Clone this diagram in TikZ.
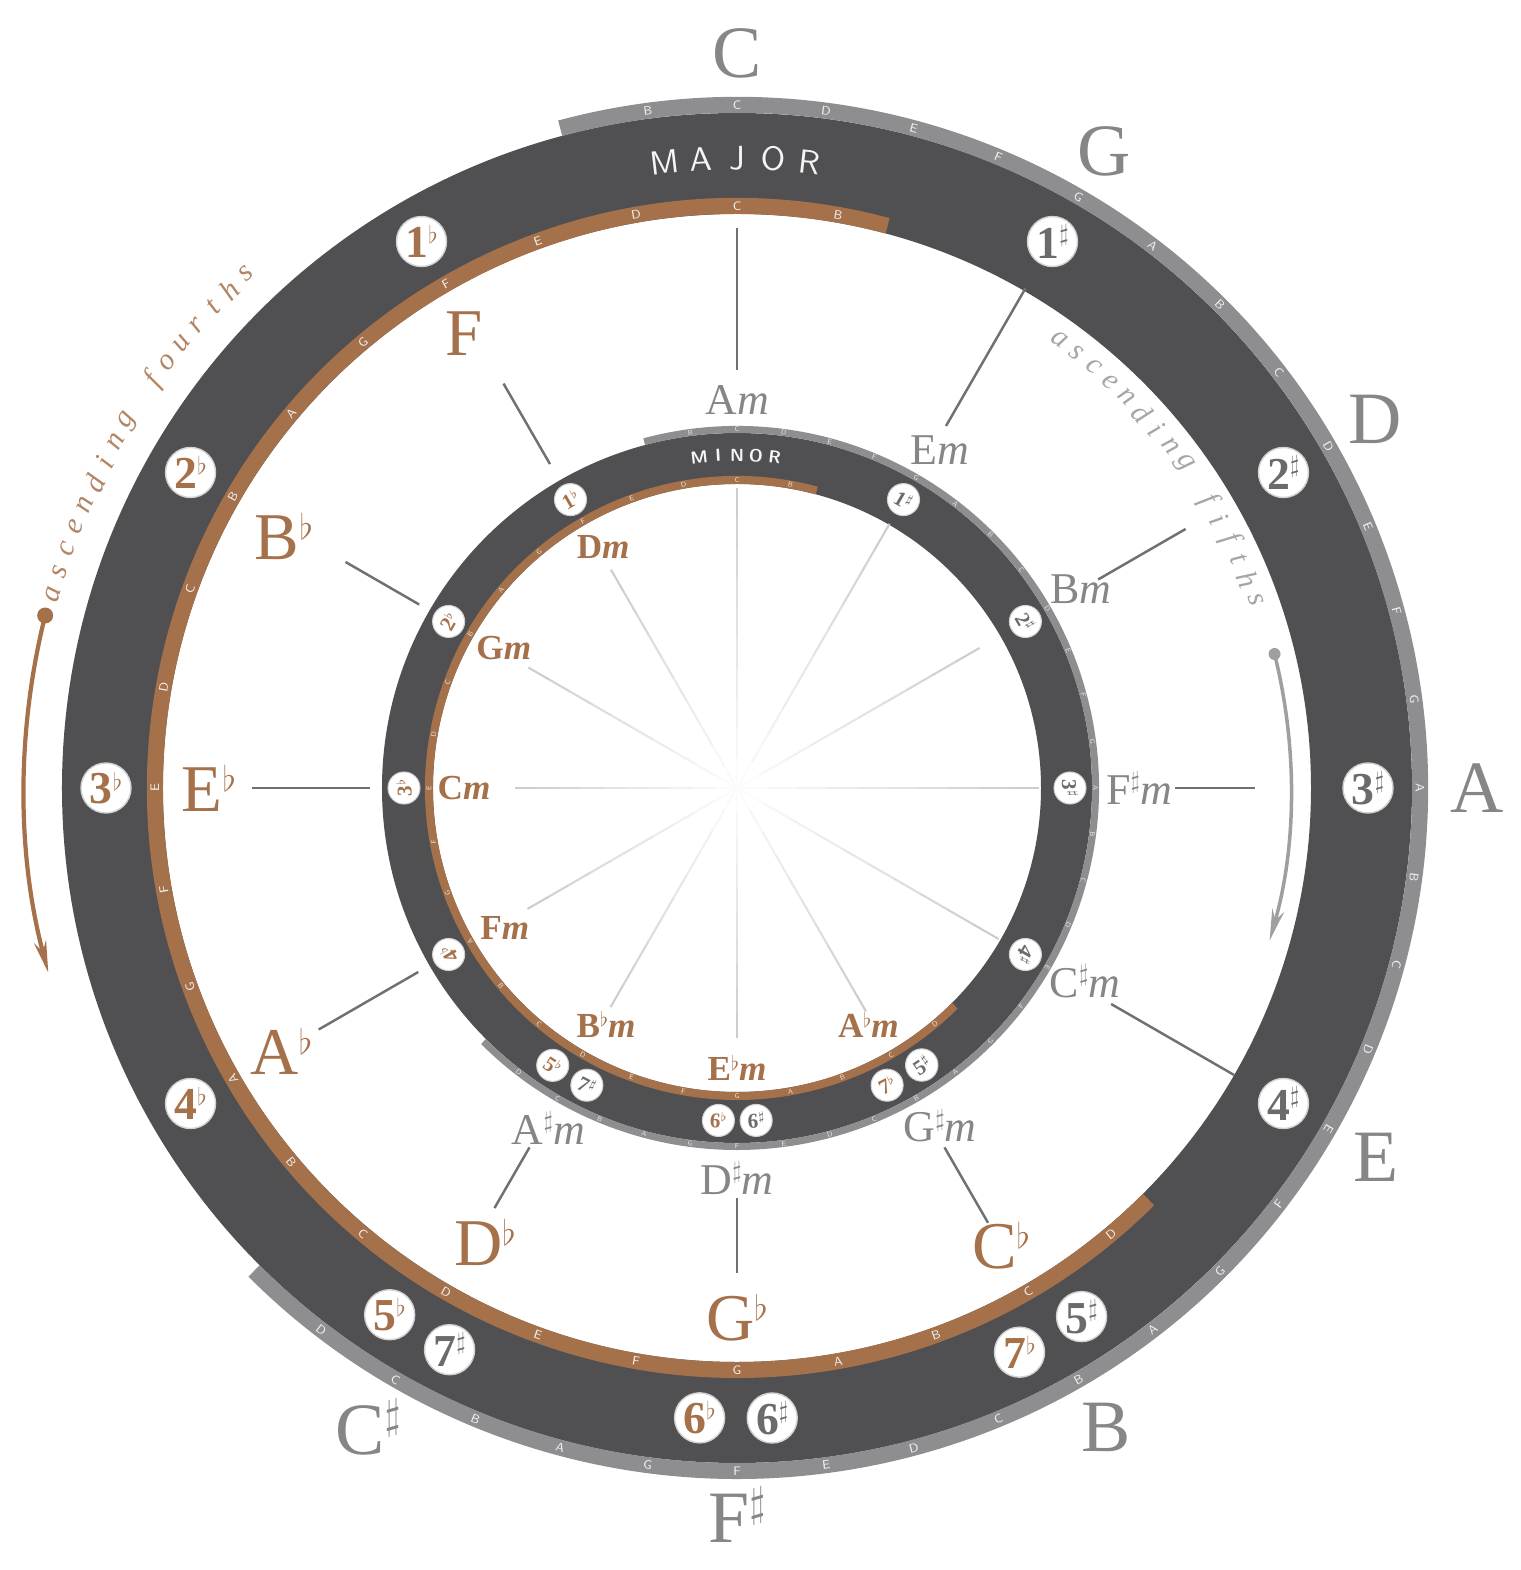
\documentclass[tikz,border=0pt]{standalone}
\usepackage{fontspec}
\setmainfont{Liberation Serif}
\usetikzlibrary{arrows.meta}
\definecolor{wheelSlate}{HTML}{505053}
\definecolor{wheelBrown}{HTML}{A5714A}
\definecolor{wheelGray}{HTML}{8E8E91}
\definecolor{keyGray}{HTML}{868686}
\definecolor{spokeGray}{HTML}{707070}
\newcommand{\noteletter}[1]{\ifcase#1 C\or D\or E\or F\or G\or A\or B\fi}
\newcommand{\flt}{\raisebox{0.3em}{\scalebox{0.58}{$\flat$}}}
\newcommand{\shp}{\raisebox{0.36em}{\scalebox{0.58}{$\sharp$}}}

\begin{document}
\begin{tikzpicture}[x=0.01cm, y=0.01cm, >=Stealth,
    bigdisk/.style={circle, fill=white, draw=gray!35, line width=0.4pt, minimum size=0.5cm, inner sep=0pt, font=\fontsize{13}{13}\selectfont\bfseries},
    smalldisk/.style={circle, fill=white, draw=gray!35, line width=0.3pt, minimum size=0.32cm, inner sep=0pt, font=\fontsize{6}{6}\selectfont\bfseries},
    majsharp/.style={text=keyGray, font=\fontsize{21}{21}\selectfont},
    majflat/.style={text=wheelBrown, font=\fontsize{19}{19}\selectfont},
    minsharp/.style={text=keyGray, font=\fontsize{12.5}{12.5}\selectfont},
    minflat/.style={text=wheelBrown, font=\fontsize{10}{10}\selectfont\bfseries},
    spoke/.style={spokeGray, line width=0.7pt},
    tick/.style={text=white!88!gray, font=\sffamily\fontsize{3.5}{3.5}\selectfont, inner sep=0pt},
    tinytick/.style={text=white!80!gray, font=\sffamily\fontsize{2}{2}\selectfont, inner sep=0pt},
    ringword/.style={text=white!92!gray, inner sep=0pt},
    arcword/.style={font=\itshape\fontsize{8.5}{8.5}\selectfont, inner sep=0pt}]
  \useasboundingbox (-737,-782) rectangle (783,788);

  % outer wheel (major)
  \fill[wheelSlate, even odd rule] (0,0) circle[radius=675] (0,0) circle[radius=574];
  \draw[wheelGray, line width=0.16cm] (105:683) arc[start angle=105, end angle=-135, radius=683];
  \draw[wheelBrown, line width=0.16cm] (75:582) arc[start angle=75, end angle=315, radius=582];
  % inner wheel (minor)
  \fill[wheelSlate, even odd rule] (0,0) circle[radius=355] (0,0) circle[radius=304];
  \draw[wheelGray, line width=0.07cm] (105:358.5) arc[start angle=105, end angle=-135, radius=358.5];
  \draw[wheelBrown, line width=0.08cm] (75:308) arc[start angle=75, end angle=315, radius=308];

  % note letters on the bands
  \foreach \n [count=\c] in {-1,...,29}{
    \pgfmathsetmacro\ang{90-7.5*\n}
    \pgfmathsetmacro\rot{sin(\ang) < -0.6 ? \ang+90 : \ang-90}
    \pgfmathtruncatemacro\k{mod(\n+70,7)}
    \node[tick, rotate=\rot] (og\c) at (\ang:683) {\noteletter{\k}};
    \node[tinytick, rotate=\rot] (ig\c) at (\ang:358.5) {\noteletter{\k}};
  }
  \foreach \n [count=\c] in {-1,...,22}{
    \pgfmathsetmacro\ang{90+10*\n}
    \pgfmathsetmacro\rot{sin(\ang) < -0.6 ? \ang+90 : \ang-90}
    \pgfmathtruncatemacro\k{mod(\n+70,7)}
    \node[tick, rotate=\rot] (ob\c) at (\ang:582) {\noteletter{\k}};
    \node[tinytick, rotate=\rot] (ib\c) at (\ang:308) {\noteletter{\k}};
  }

  % ring titles
  \foreach \ch/\a [count=\c] in {M/96.6, A/93.3, J/90, O/86.7, R/83.4}
    \node[ringword, font=\sffamily\fontsize{9.5}{9.5}\selectfont, rotate=\a-90] (maj\c) at (\a:630) {\ch};
  \foreach \ch/\a [count=\c] in {M/96.5, I/93.25, N/90, O/86.75, R/83.5}
    \node[ringword, font=\sffamily\bfseries\fontsize{5}{5}\selectfont, rotate=\a-90] (min\c) at (\a:333) {\ch};

  % faint spokes inside the minor wheel
  \foreach \a/\r [count=\c] in {90/300, 60/305, 30/280, 0/302, -30/302, -60/258,
      -90/250, -120/253, 210/242, 180/222, 150/241, 120/252}{
    \foreach \k in {0,...,9}
      \draw[gray!\the\numexpr 3+\k*4\relax, line width=0.6pt] (\a:\k*\r/10) -- (\a:\k*\r/10+\r/10);
  }

  % spokes between the wheels
  \foreach \a/\ra/\rb [count=\c] in {90/418/560, 60/418/577, 30/417/518, 0/438/518,
      -30/432/574, -60/415/502, -90/410/485, -120/415/485,
      120/374/467, 150/367/452, 180/367/485, 210/368/483}{
    \coordinate (sa\c) at (\a:\ra);
    \coordinate (sb\c) at (\a:\rb);
    \draw[spoke] (sa\c) -- (sb\c);
  }

  % key signature disks, outer wheel
  \foreach \a/\t in {120/1, 150/2, 180/3, 210/4, 236.6/5, 266.6/6, 296.6/7}
    \node[bigdisk, text=wheelBrown] (fo\t) at (\a:631) {\t\flt};
  \foreach \a/\t in {60/1, 30/2, 0/3, -30/4, -56.9/5, -86.8/6, -117.1/7}
    \node[bigdisk, text=keyGray!80!black] (so\t) at (\a:631) {\t\shp};
  % key signature disks, inner wheel
  \foreach \a/\t in {120/1, 150/2, 180/3, 210/4, 236.4/5, 266.8/6, 296.8/7}{
    \pgfmathsetmacro\rot{sin(\a) < -0.6 ? \a+90 : \a-90}
    \node[smalldisk, text=wheelBrown] (fi\t) at (\a:333) {\rotatebox[origin=c]{\rot}{\t\flt}};
  }
  \foreach \a/\t in {60/1, 30/2, 0/3, -30/4, -56.3/5, -86.7/6, -116.8/7}{
    \pgfmathsetmacro\rot{sin(\a) < -0.6 ? \a+90 : \a-90}
    \node[smalldisk, text=keyGray!80!black] (si\t) at (\a:333) {\rotatebox[origin=c]{\rot}{\t\shp}};
  }

  % major keys
  \node[majsharp] (kC)  at (90:735)   {C};
  \node[majsharp] (kG)  at (60:735)   {G};
  \node[majsharp] (kD)  at (30:737)   {D};
  \node[majsharp] (kA)  at (0:740)    {A};
  \node[majsharp] (kE)  at (-30:738)  {E};
  \node[majsharp] (kB)  at (-60:738)  {B};
  \node[majsharp] (kFs) at (-90:727)  {F\shp};
  \node[majsharp] (kCs) at (-120:738) {C\shp};
  \node[majflat] (kF)  at (121:530) {F};
  \node[majflat] (kBb) at (151:518) {B\flt};
  \node[majflat] (kEb) at (180:528) {E\flt};
  \node[majflat] (kAb) at (210:526) {A\flt};
  \node[majflat] (kDb) at (241:520) {D\flt};
  \node[majflat] (kGb) at (270:530) {G\flt};
  \node[majflat] (kCb) at (300:528) {C\flt};

  % minor keys
  \node[minsharp] (mA)  at (90:388)   {A\textit{m}};
  \node[minsharp] (mE)  at (59:394)   {E\textit{m}};
  \node[minsharp] (mB)  at (30:397)   {B\textit{m}};
  \node[minsharp] (mFs) at (0:402)    {F\shp\textit{m}};
  \node[minsharp] (mCs) at (-29:398)  {C\shp\textit{m}};
  \node[minsharp] (mGs) at (-59:394)  {G\shp\textit{m}};
  \node[minsharp] (mDs) at (-90:390)  {D\shp\textit{m}};
  \node[minsharp] (mAs) at (-119:389) {A\shp\textit{m}};
  \node[minflat] (mD)  at (119:276) {D\textit{m}};
  \node[minflat] (mG)  at (149:272) {G\textit{m}};
  \node[minflat] (mC)  at (180:273) {C\textit{m}};
  \node[minflat] (mF)  at (211:271) {F\textit{m}};
  \node[minflat] (mBb) at (241:270) {B\flt\textit{m}};
  \node[minflat] (mEb) at (270:280) {E\flt\textit{m}};
  \node[minflat] (mAb) at (299:271) {A\flt\textit{m}};

  % ascending fourths
  \foreach \ch [count=\c] in {a,s,c,e,n,d,i,n,g,{},f,o,u,r,t,h,s}{
    \pgfmathsetmacro\ang{164.2-(\c-1)*1.91}
    \node[arcword, text=wheelBrown!85, rotate=\ang-90] (fw\c) at (\ang:711) {\ch};
  }
  \coordinate (fourthsStart) at (166:713);
  \fill[wheelBrown] (fourthsStart) circle[radius=8];
  \draw[wheelBrown, line width=1.2pt, -{Stealth[length=9pt, width=3.5pt]}] (fourthsStart) arc[start angle=166, end angle=195, radius=713];

  % ascending fifths
  \foreach \ch [count=\c] in {a,s,c,e,n,d,i,n,g,{},f,i,f,t,h,s}{
    \pgfmathsetmacro\ang{54.3-(\c-1)*2.29}
    \node[arcword, text=gray!70, rotate=\ang-90] (sw\c) at (\ang:552) {\ch};
  }
  \coordinate (fifthsStart) at (14:554);
  \fill[gray!75] (fifthsStart) circle[radius=6];
  \draw[gray!75, line width=1pt, -{Stealth[length=9pt, width=3.5pt]}] (fifthsStart) arc[start angle=14, end angle=-16, radius=554];
\end{tikzpicture}
\end{document}
